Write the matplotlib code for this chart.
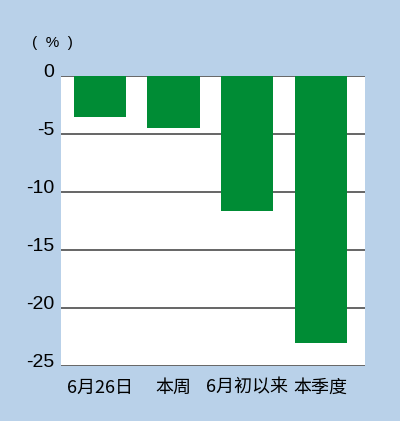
import matplotlib
matplotlib.use("Agg")
from matplotlib import pyplot as plt
import matplotlib.transforms as mtransforms

categories = ["6月26日", "本周", "6月初以来", "本季度"]
values = [-3.5, -4.5, -11.6, -23.0]
yticks = [0, -5, -10, -15, -20, -25]

plt.rcParams['font.family'] = ['Liberation Sans', 'Noto Sans CJK SC', 'DejaVu Sans']

bg = '#b9d1e9'
fig = plt.figure(figsize=(4.0, 4.21), dpi=100, facecolor=bg)
ax = fig.add_axes([0.1525, 0.1306, 0.76, 0.689])
ax.set_facecolor('white')

x = list(range(len(categories)))
ax.bar(x, values, width=0.71, color='#008c35', zorder=3)

for t in yticks:
    ax.axhline(t, color='#3c3c3c', linewidth=1.1, zorder=2)

ax.set_xlim(-0.53, 3.6)
ax.set_ylim(-25, 0)
ax.set_yticks(yticks)
ax.set_yticklabels([str(t) for t in yticks], fontsize=14)
ax.set_xticks(x)
ax.set_xticklabels(categories, fontsize=13,
                   family=['Noto Sans CJK SC', 'DejaVu Sans'])
ax.tick_params(length=0, pad=5)
ax.tick_params(axis='x', pad=9)
for s in ax.spines.values():
    s.set_visible(False)

offset = mtransforms.ScaledTranslation(0, 4 / 72, fig.dpi_scale_trans)
for lbl in ax.get_yticklabels():
    lbl.set_transform(lbl.get_transform() + offset)

fig.text(0.08, 0.897, "(  %  )", fontsize=11, ha='left', va='center')

fig.savefig("out.png", dpi=100, facecolor=bg)
